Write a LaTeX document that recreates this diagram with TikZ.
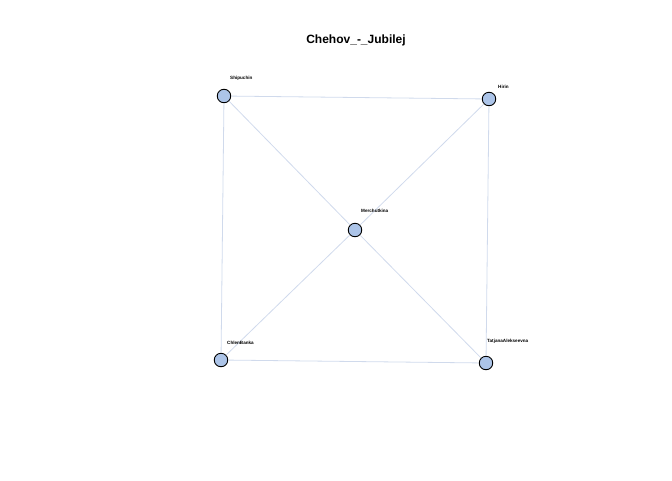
\documentclass[tikz,border=0pt]{standalone}
\usepackage{fontspec}
\setmainfont{Liberation Sans}
\definecolor{vfill}{RGB}{172,196,232}
\definecolor{ecol}{RGB}{208,218,236}
\begin{document}
\begin{tikzpicture}[x=1pt,y=-1pt,
  vert/.style={circle,draw=black,line width=0.9pt,fill=vfill,minimum size=13.5pt,inner sep=0pt},
  lab/.style={font=\fontsize{4.6}{5}\selectfont\bfseries,anchor=west,inner sep=0pt},
  edge/.style={draw=ecol,line width=0.8pt}]
\useasboundingbox (0,0) rectangle (672,480);
\node[font=\fontsize{12}{14}\selectfont\bfseries] (title) at (356,40) {Chehov\_-\_Jubilej};
\node[vert] (S) at (224,96) {};
\node[vert] (H) at (489,99) {};
\node[vert] (M) at (355,230) {};
\node[vert] (C) at (221,360) {};
\node[vert] (T) at (486,363) {};
\draw[edge] (S) -- (H);
\draw[edge] (S) -- (C);
\draw[edge] (S) -- (M);
\draw[edge] (M) -- (T);
\draw[edge] (H) -- (M);
\draw[edge] (M) -- (C);
\draw[edge] (H) -- (T);
\draw[edge] (C) -- (T);
\node[lab] (Sl) at (230,78) {Shipuchin};
\node[lab] (Hl) at (498,87) {Hirin};
\node[lab] (Ml) at (361,211) {Merchutkina};
\node[lab] (Cl) at (227,343) {ChlenBanka};
\node[lab] (Tl) at (487,341) {TatjanaAlekseevna};
\end{tikzpicture}
\end{document}
